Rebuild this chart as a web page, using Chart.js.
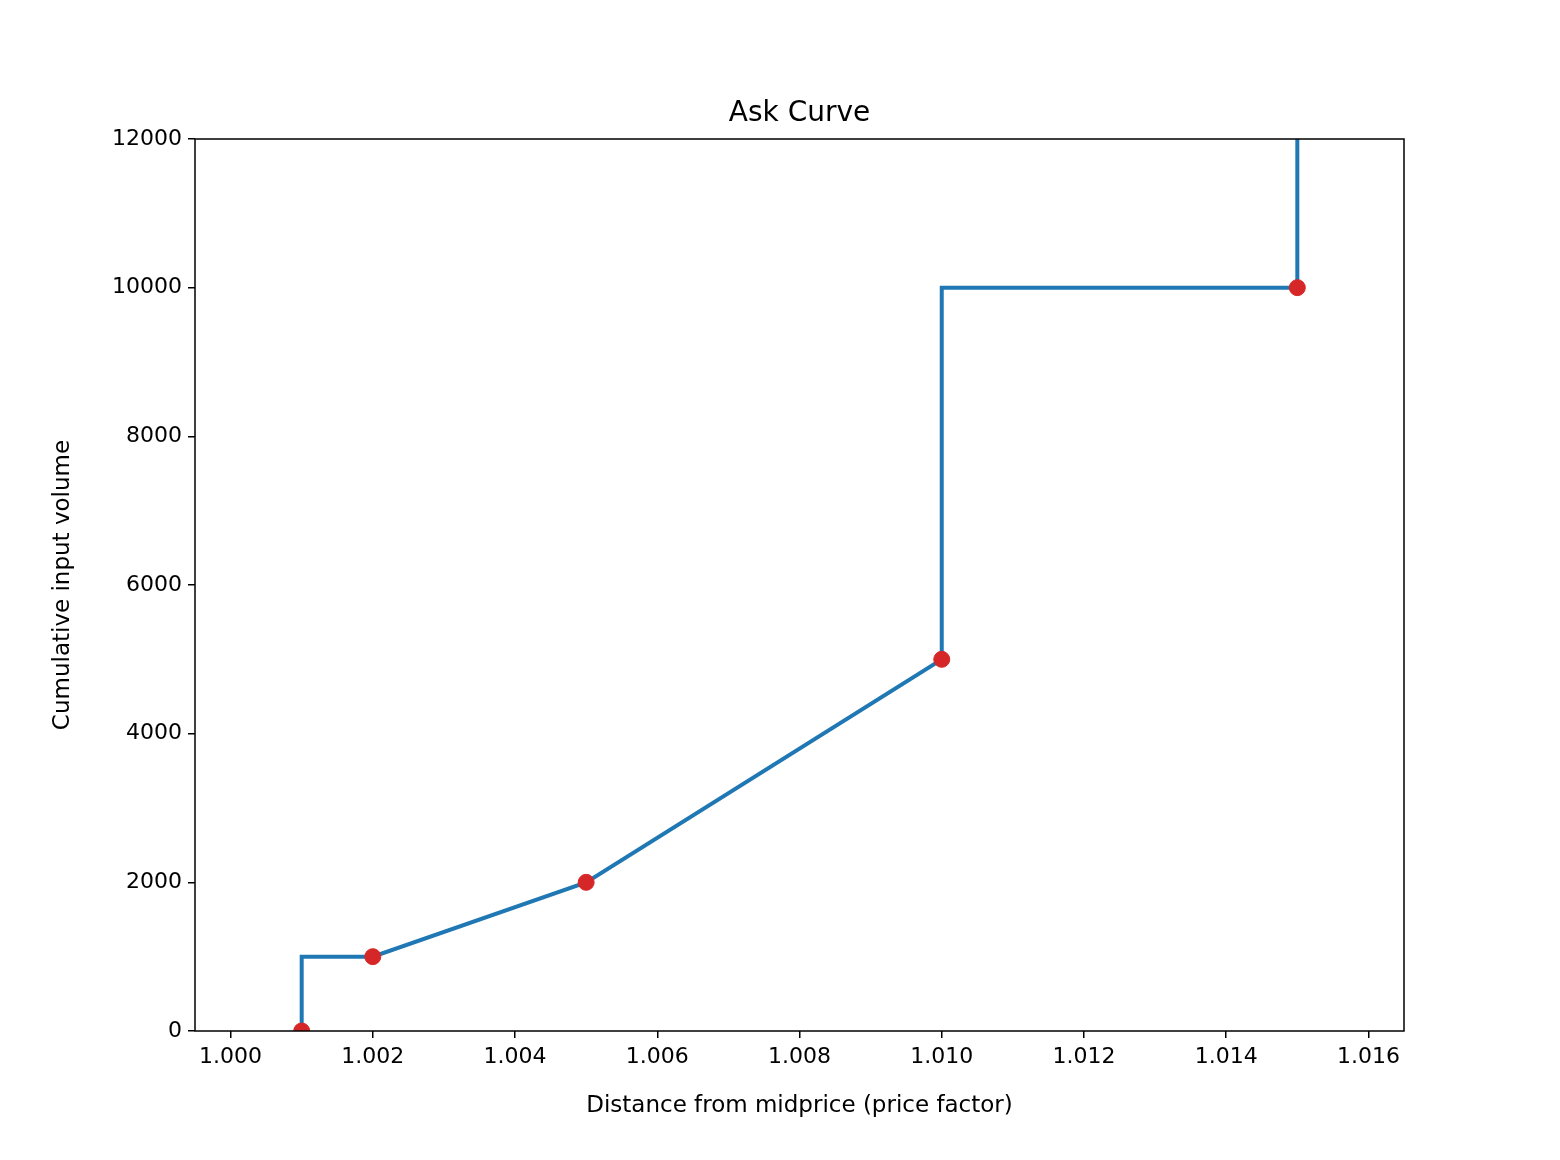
<!DOCTYPE html>
<html><head><meta charset="utf-8">
<script src="https://cdn.jsdelivr.net/npm/chart.js@4/dist/chart.umd.min.js"></script>
<style>html,body{margin:0;background:#fff}#wrap{width:1560px;height:1160px}</style>
</head><body><div id="wrap"><canvas id="c" width="1560" height="1160"></canvas></div>
<script>
const curveX = [1.001, 1.001, 1.002, 1.005, 1.010, 1.010, 1.015, 1.015];
const curveY = [0, 1000, 1000, 2000, 5000, 10000, 10000, 13000];
const pointX = [1.001, 1.002, 1.005, 1.010, 1.015];
const pointY = [0, 1000, 2000, 5000, 10000];
const xTicks = [1.000, 1.002, 1.004, 1.006, 1.008, 1.010, 1.012, 1.014, 1.016];
const yTicks = [0, 2000, 4000, 6000, 8000, 10000, 12000];
const FONT = "'DejaVu Sans', sans-serif";

const frame = {
  id: 'frame',
  afterDraw(ch) {
    const {ctx, chartArea: a} = ch;
    ctx.save();
    ctx.strokeStyle = '#000'; ctx.lineWidth = 1.5;
    ctx.strokeRect(a.left, a.top, a.right - a.left, a.bottom - a.top);
    ctx.fillStyle = '#000';
    ctx.textAlign = 'center'; ctx.textBaseline = 'alphabetic';
    ctx.font = "28px " + FONT;
    ctx.fillText('Ask Curve', (a.left + a.right) / 2, 121);
    ctx.font = "23px " + FONT;
    ctx.fillText('Distance from midprice (price factor)', (a.left + a.right) / 2, 1112);
    ctx.translate(69, (a.top + a.bottom) / 2);
    ctx.rotate(-Math.PI / 2);
    ctx.fillText('Cumulative input volume', 0, 0);
    ctx.restore();
  }
};

new Chart(document.getElementById('c'), {
  type: 'scatter',
  data: { datasets: [
    { data: pointX.map((x, i) => ({x, y: pointY[i]})), backgroundColor: '#d62728', borderColor: '#d62728', pointRadius: 8, pointHoverRadius: 8, order: 0 },
    { type: 'line', data: curveX.map((x, i) => ({x, y: curveY[i]})), borderColor: '#1f77b4', borderWidth: 4, pointRadius: 0, fill: false, tension: 0, order: 1 }
  ]},
  plugins: [frame],
  options: {
    responsive: false, animation: false, devicePixelRatio: 1,
    layout: { padding: { top: 139, right: 156, left: 0, bottom: 0 } },
    plugins: { legend: { display: false }, tooltip: { enabled: false } },
    scales: {
      x: {
        type: 'linear', min: 0.9995, max: 1.0165,
        afterBuildTicks: s => { s.ticks = xTicks.map(v => ({value: v})); },
        afterFit: s => { s.height = 129; },
        grid: { drawOnChartArea: false, tickLength: 7, color: '#000', lineWidth: 1.5 },
        border: { display: false },
        ticks: { color: '#000', font: { family: FONT, size: 22 }, padding: 6, maxRotation: 0, callback: v => v.toFixed(3) }
      },
      y: {
        min: 0, max: 12000,
        afterBuildTicks: s => { s.ticks = yTicks.map(v => ({value: v})); },
        afterFit: s => { s.width = 195; },
        grid: { drawOnChartArea: false, tickLength: 7, color: '#000', lineWidth: 1.5 },
        border: { display: false },
        ticks: { color: '#000', font: { family: FONT, size: 22 }, padding: 6, callback: v => String(v) }
      }
    }
  }
});
</script></body></html>
